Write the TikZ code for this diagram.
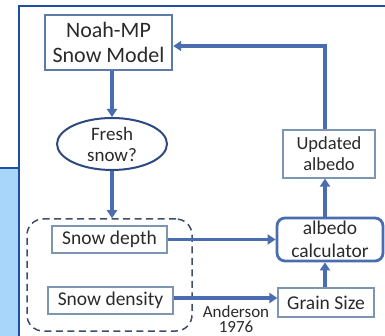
\documentclass[tikz,border=0pt]{standalone}
\usepackage{fontspec}
\setmainfont{Carlito}
\usetikzlibrary{arrows.meta,shapes.geometric,positioning}
\definecolor{framecol}{HTML}{1E4FA5}
\definecolor{panelcol}{HTML}{A8D5FA}
\definecolor{arrcol}{HTML}{4A6DB0}
\definecolor{boxcol}{HTML}{5B7BAA}
\definecolor{thinbox}{HTML}{7E95B2}
\definecolor{ellcol}{HTML}{2E4A80}
\definecolor{dashcol}{HTML}{3E4E68}
\definecolor{txtcol}{HTML}{2A2A2A}
\tikzset{
  flow/.style={draw=arrcol, line width=3.2pt, -{Triangle[length=8pt,width=10pt]}},
  mainbox/.style={draw=boxcol, line width=2.4pt, fill=white, text=txtcol, align=center, inner sep=0pt, font=\fontsize{22}{25}\selectfont},
  thinbox/.style={draw=thinbox, line width=1.2pt, fill=white, text=txtcol, align=center, inner sep=0pt, font=\fontsize{19.5}{22}\selectfont},
  calcbox/.style={draw=arrcol, line width=2.8pt, rounded corners=8pt, fill=white, text=txtcol, align=center, inner sep=0pt, font=\fontsize{19.5}{23}\selectfont},
  qell/.style={ellipse, draw=ellcol, line width=2pt, fill=white, text=txtcol, align=center, inner sep=0pt, font=\fontsize{19}{21}\selectfont},
  groupbox/.style={draw=dashcol, line width=1.5pt, dash pattern=on 7pt off 4.5pt, rounded corners=16pt, inner sep=0pt},
}
\begin{document}
\begin{tikzpicture}[x=1pt,y=-1pt]
\useasboundingbox (0,0) rectangle (385,336);
% background panel and frame
\fill[panelcol] (0,168) rectangle (19,336);
\draw[framecol, line width=2.5pt] (0,168) -- (19,168);
\draw[framecol, line width=2.5pt] (19,337) -- (19,6) -- (386,6);
% nodes
\node[mainbox, minimum width=127pt, minimum height=55pt] (noah) at (108.5,42.5) {Noah-MP\\Snow Model};
\node[qell, minimum width=110pt, minimum height=52pt] (fresh) at (112,144) {Fresh\\snow?};
\node[groupbox, minimum width=165pt, minimum height=112pt] (group) at (109.5,275) {};
\node[thinbox, minimum width=115pt, minimum height=27pt] (depth) at (109.5,239.5) {Snow depth};
\node[thinbox, minimum width=125pt, minimum height=27pt] (density) at (110.5,300.5) {Snow density};
\node[calcbox, minimum width=106pt, minimum height=43pt] (calc) at (330,239.5) {albedo\\calculator};
\node[thinbox, minimum width=96pt, minimum height=29pt] (grain) at (326,302.5) {Grain Size};
\node[thinbox, minimum width=92pt, minimum height=48pt, font=\fontsize{18.5}{21}\selectfont] (upd) at (329,154) {Updated\\albedo};
\node[text=txtcol, align=center, inner sep=0pt, font=\fontsize{17}{15.5}\selectfont] (anders) at (236,319) {Anderson\\1976};
% connectors
\coordinate (vx) at (325,0);
\coordinate (lx) at (112,0);
\coordinate (topy) at (0,46);
\draw[flow] (noah.south -| lx) -- (fresh.north);
\draw[flow] (fresh.south) -- (group.north -| lx);
\draw[flow] (depth.east) -- (calc.west |- depth.east);
\draw[flow] (density.east |- 0,298) -- (grain.west |- 0,298);
\draw[flow] (grain.north -| vx) -- (calc.south -| vx);
\draw[flow] (calc.north -| vx) -- (upd.south -| vx);
\draw[flow] (upd.north -| vx) -- (vx |- topy) -- (noah.east |- topy);
\end{tikzpicture}
\end{document}
